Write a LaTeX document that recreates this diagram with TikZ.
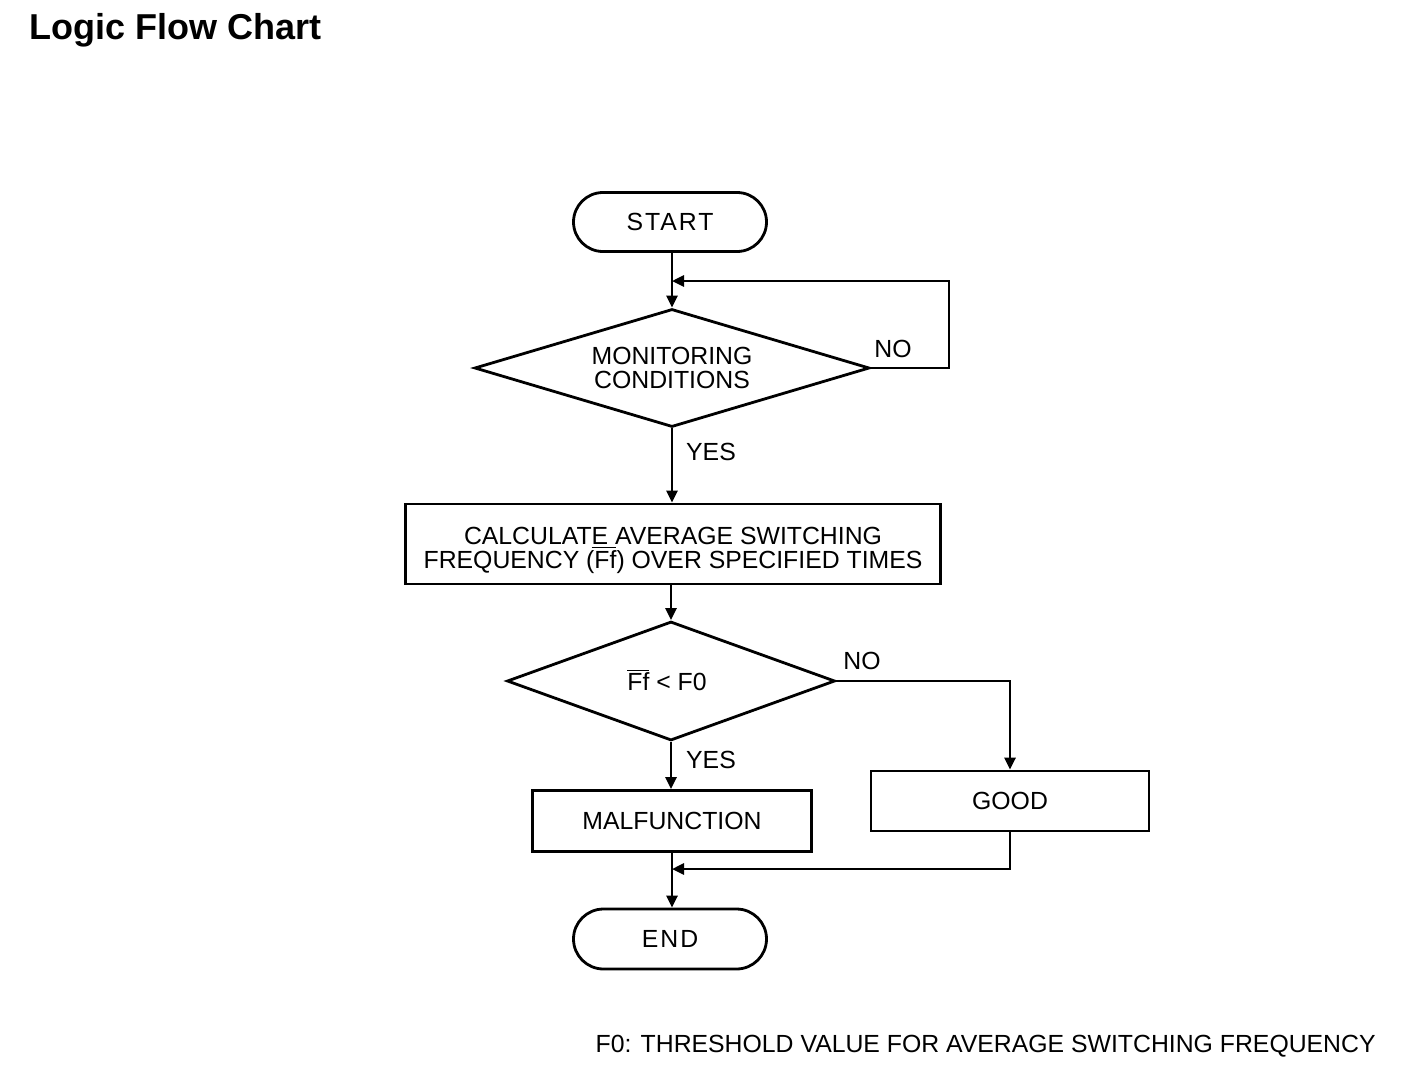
\documentclass[tikz,border=0pt]{standalone}
\usepackage{fontspec}
\setmainfont{Liberation Sans}
\usetikzlibrary{shapes.geometric,shapes.misc,arrows.meta}
\newcommand{\avgFf}{$\overline{\mbox{Ff}}$}
\newcommand{\chartfont}{\fontsize{12.4}{12.2}\selectfont\setlength{\lineskiplimit}{-20pt}}

\begin{document}
\begin{tikzpicture}[
      x=0.5pt, y=-0.5pt,
      line width=1.4pt,
      every node/.style={font=\chartfont, align=center, inner sep=0pt},
      terminal/.style={rounded rectangle, draw, minimum width=96.5pt, minimum height=29.5pt,
        font=\chartfont\addfontfeature{LetterSpace=8}},
      decision/.style={diamond, draw, aspect=3.3},
      process/.style={rectangle, draw},
      arr/.style={-{Triangle[length=6pt,width=5.5pt]}}
    ]
    \useasboundingbox (0,0) rectangle (1408,1066);
    \node[anchor=west, font=\fontsize{18}{20}\selectfont\bfseries] (title) at (28,30) {Logic Flow Chart};

    \node[terminal] (start) at (670,222) {START};
    \node[decision, minimum width=197.5pt, minimum height=59pt] (mon) at (672,368) {MONITORING\\CONDITIONS};
    \node[process, minimum width=267.5pt, minimum height=40pt] (calc) at (673,544)
      {\rule{0pt}{15pt}CALCULAT\underline{E\ }AVERAGE SWITCHING\\FREQUENCY (\avgFf) OVER SPECIFIED TIMES};
    \node[decision, minimum width=164pt, minimum height=59.5pt] (cmp) at (671,681) {};
    \node (cmptext) at (667,680) {\avgFf{} < F0};
    \node[process, minimum width=139.5pt, minimum height=30.5pt] (malf) at (672,821) {MALFUNCTION};
    \node[process, minimum width=139pt, minimum height=30pt] (good) at (1010,801) {GOOD};
    \node[terminal, minimum height=30pt] (end) at (670,939) {END};

    % labels
    \node (no1) at (893,349) {NO};
    \node (yes1) at (711,452) {YES};
    \node (no2) at (862,661) {NO};
    \node (yes2) at (711,760) {YES};
    \node[anchor=east] (note) at (1377,1046) {F0: THRESHOLD VALUE FOR AVERAGE SWITCHING FREQUENCY};

    % joints
    \coordinate (loopin) at (672,281);
    \coordinate (loopr) at (949,281);
    \coordinate (merge) at (672,869);

    \draw[arr] (start.south -| mon.north) -- (mon.north);
    \draw[arr] (mon.east) -| (loopr) -- (loopin);
    \draw[arr] (mon.south) -- (calc.north -| mon.south);
    \draw[arr] (calc.south -| cmp.north) -- (cmp.north);
    \draw[arr] (cmp.south) -- (malf.north -| cmp.south);
    \draw[arr] (cmp.east) -| (good.north);
    \draw[arr] (good.south) |- (merge);
    \draw[arr] (malf.south) -- (end.north -| malf.south);
\end{tikzpicture}
\end{document}
